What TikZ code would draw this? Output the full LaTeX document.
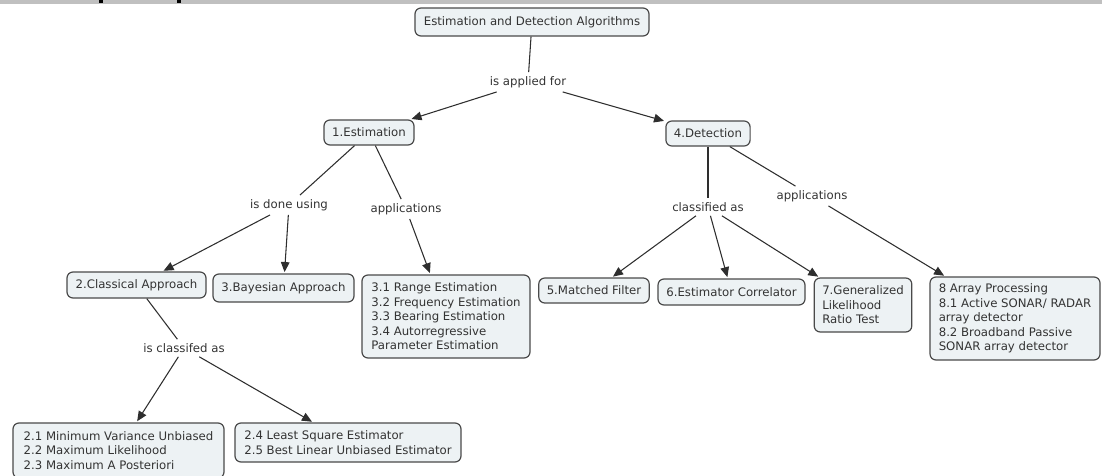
\documentclass[tikz,border=0pt]{standalone}
\usepackage{fontspec}
\setmainfont{DejaVu Sans}
\usetikzlibrary{arrows.meta}
\definecolor{boxfill}{HTML}{EDF2F4}
\definecolor{boxline}{HTML}{4A4A4A}
\definecolor{ink}{HTML}{333333}
\definecolor{linkc}{HTML}{2E2E2E}
\definecolor{header}{HTML}{C0C0C0}

\begin{document}
\begin{tikzpicture}[x=0.75pt,y=-0.75pt,
  concept/.style={draw=boxline, line width=0.9pt, fill=boxfill,
    rounded corners=4.5pt, inner xsep=6pt, inner ysep=2pt, align=left,
    text=ink, font=\fontsize{8.8pt}{10.9pt}\selectfont},
  phrase/.style={inner sep=3pt, text=ink, font=\fontsize{8.8pt}{10.9pt}\selectfont},
  link/.style={draw=linkc, line width=0.8pt},
  arrow/.style={link, -{Triangle[length=7.5pt,width=6.5pt]}, shorten >=1pt},
]
\useasboundingbox (0,0) rectangle (1102,475);

% header strip
\fill[header] (0,0) rectangle (1102,4);
\fill[black] (99,0) rectangle (103,3);
\fill[black] (177,0) rectangle (181,3);

% concepts
\node[concept, minimum width=175.5pt, minimum height=21pt] (root) at (532,22)
  {Estimation and Detection Algorithms};
\node[concept, minimum width=67.5pt, minimum height=18.75pt] (est) at (369,132.5)
  {1.Estimation};
\node[concept, minimum width=63pt, minimum height=18.75pt] (det) at (708,133.5)
  {4.Detection};
\node[concept, minimum width=104.25pt, minimum height=19.5pt] (classical) at (136.5,285)
  {2.Classical Approach};
\node[concept, minimum width=105.75pt, minimum height=21pt] (bayes) at (283.5,288)
  {3.Bayesian Approach};
\node[concept, minimum width=126pt, minimum height=62.25pt] (estapps) at (446,316.5)
  {3.1 Range Estimation\\3.2 Frequency Estimation\\3.3 Bearing Estimation\\3.4 Autorregressive\\Parameter Estimation};
\node[concept, minimum width=82.5pt, minimum height=18.75pt] (matched) at (594,290.5)
  {5.Matched Filter};
\node[concept, minimum width=110.25pt, minimum height=19.5pt] (estcorr) at (731.5,292)
  {6.Estimator Correlator};
\node[concept, minimum width=70.5pt, minimum height=40.5pt] (glrt) at (863,305)
  {7.Generalized\\Likelihood\\Ratio Test};
\node[concept, minimum width=127.5pt, minimum height=62.25pt] (array) at (1015,318.5)
  {8 Array Processing\\8.1 Active SONAR/ RADAR\\array detector\\8.2 Broadband Passive\\SONAR array detector};
\node[concept, minimum width=158.25pt, minimum height=41.25pt] (mvu) at (118.5,450.5)
  {2.1 Minimum Variance Unbiased\\2.2 Maximum Likelihood\\2.3 Maximum A Posteriori};
\node[concept, minimum width=169.5pt, minimum height=29.25pt] (lse) at (348,442.5)
  {2.4 Least Square Estimator\\2.5 Best Linear Unbiased Estimator};

% linking phrases
\node[phrase] (applied) at (528,82) {is applied for};
\node[phrase] (doneusing) at (289,205) {is done using};
\node[phrase] (appsL) at (406,209) {applications};
\node[phrase] (classifed) at (184,348) {is classifed as};
\node[phrase] (classified) at (708,207) {classified as};
\node[phrase] (appsR) at (812,196) {applications};

% connections
\draw[link] (root) -- (applied);
\draw[arrow] (applied) -- (est);
\draw[arrow] (applied) -- (det);

\draw[link] (est) -- (doneusing);
\draw[link] (est) -- (appsL);
\draw[arrow] (doneusing) -- (classical);
\draw[arrow] (doneusing) -- (bayes);
\draw[arrow] (appsL) -- (estapps);

\draw[link] (classical) -- (classifed);
\draw[arrow] (classifed) -- (mvu);
\draw[arrow] (classifed) -- (lse);

\draw[link] (det) -- (classified);
\draw[link] (det) -- (appsR);
\draw[arrow] (classified) -- (matched);
\draw[arrow] (classified) -- (estcorr);
\draw[arrow] (classified) -- (glrt);
\draw[arrow] (appsR) -- (array);
\end{tikzpicture}
\end{document}
